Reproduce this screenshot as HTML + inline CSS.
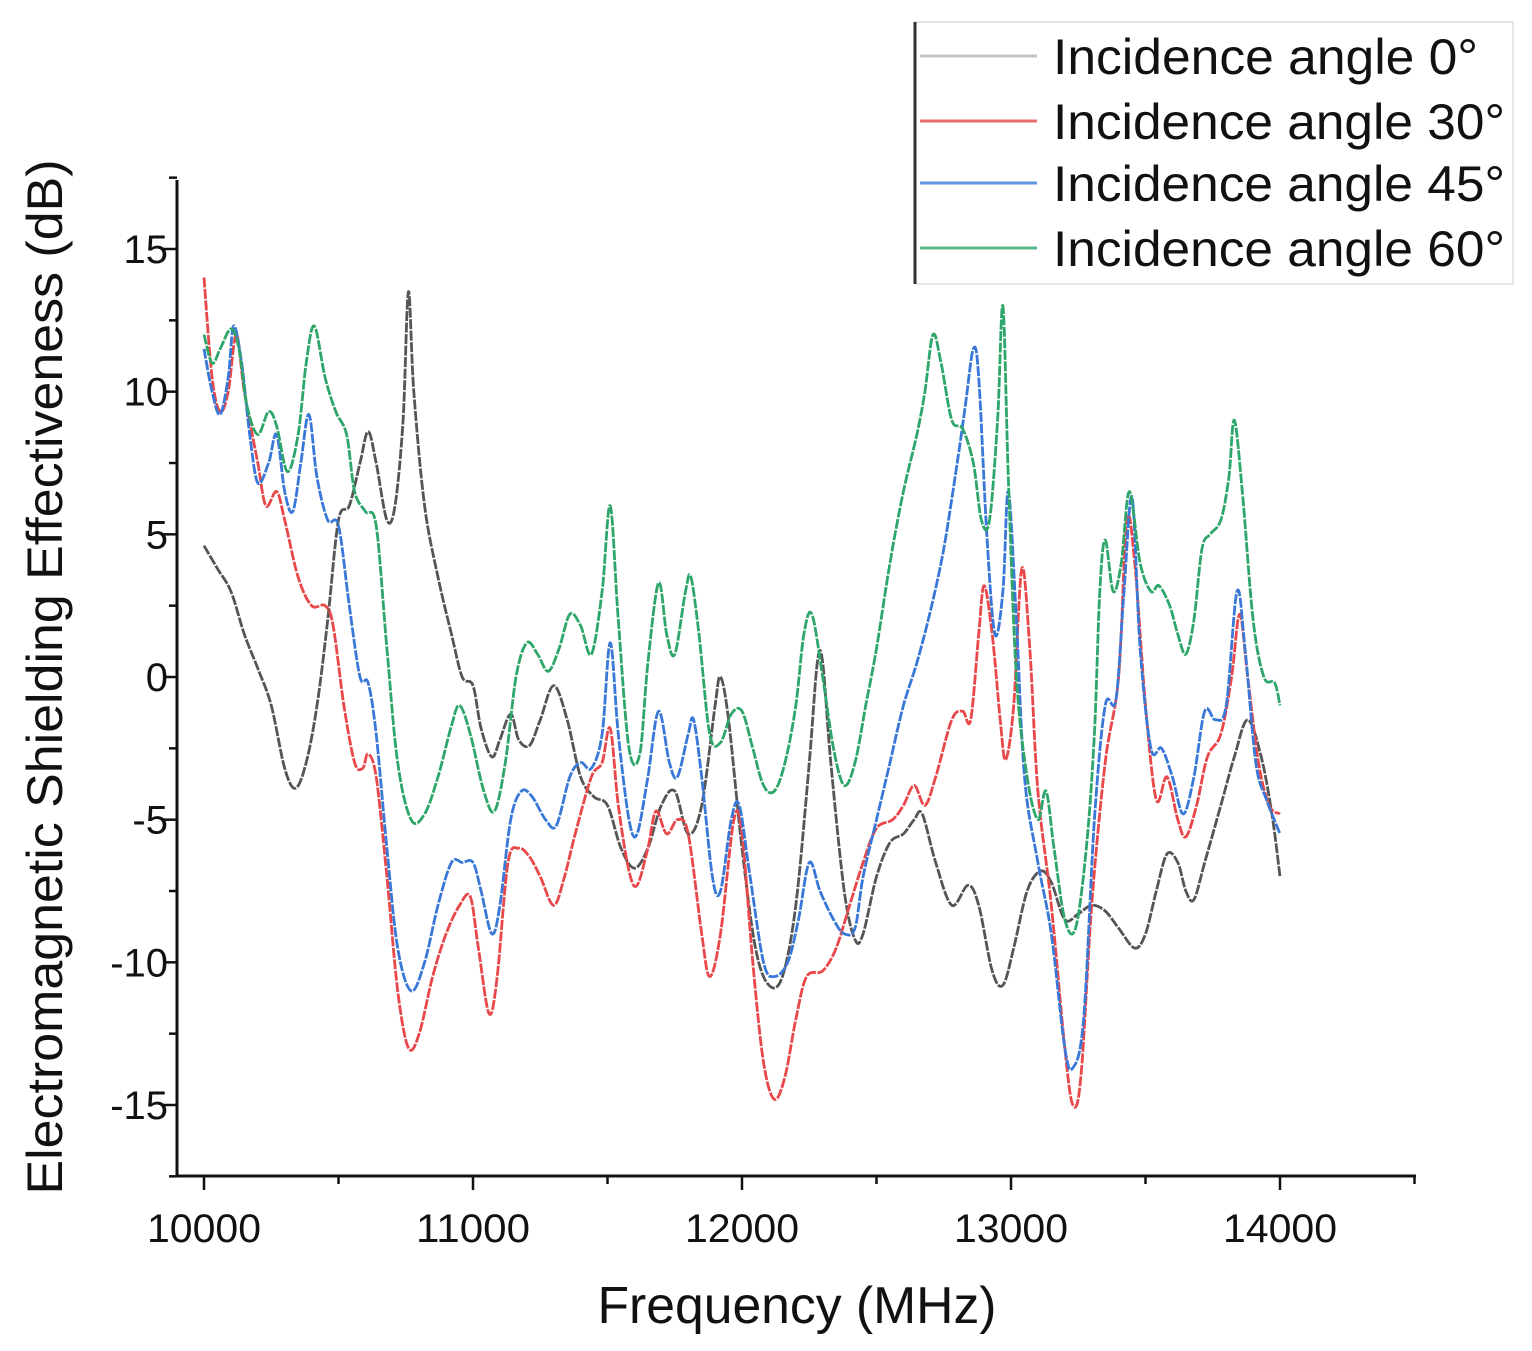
<!DOCTYPE html>
<html><head><meta charset="utf-8"><style>
html,body{margin:0;padding:0;background:#fff;}
svg{display:block;font-family:"Liberation Sans",Arial,sans-serif;}
</style></head><body>
<svg id="chart" width="1532" height="1351" viewBox="0 0 1532 1351" xmlns="http://www.w3.org/2000/svg">
<g id="axes"></g>
<g id="series"></g>
<text x="797" y="1323" font-size="52" text-anchor="middle" fill="#111" textLength="399" lengthAdjust="spacingAndGlyphs">Frequency (MHz)</text>
<text transform="translate(62,677) rotate(-90)" font-size="50" text-anchor="middle" fill="#111" textLength="1035" lengthAdjust="spacingAndGlyphs">Electromagnetic Shielding Effectiveness (dB)</text>
<g>
<rect x="915" y="22" width="598" height="262" fill="#fff" stroke="#ddd" stroke-width="1.5"/>
<line x1="915" y1="22" x2="915" y2="284" stroke="#333" stroke-width="3"/>
<g id="legend-entries"></g>
</g>
</svg>
<script>
const xTicks=[10000,11000,12000,13000,14000];
const yTicks=[15,10,5,0,-5,-10,-15];
const seriesNames=["Incidence angle 0°","Incidence angle 30°","Incidence angle 45°","Incidence angle 60°"];
const seriesColors=["#555","#e8484a","#3a78d8","#2ea66a"];
const freq0=[10000,10050,10100,10150,10200,10250,10300,10340,10380,10420,10460,10500,10540,10580,10610,10640,10680,10710,10740,10760,10780,10820,10870,10920,10960,11000,11030,11070,11100,11140,11170,11210,11250,11300,11350,11400,11450,11500,11550,11600,11650,11700,11750,11800,11850,11900,11920,11950,12000,12050,12100,12150,12200,12250,12280,12300,12330,12380,12420,12450,12500,12550,12600,12640,12670,12720,12780,12840,12880,12930,12970,13010,13060,13110,13150,13200,13250,13300,13350,13400,13460,13500,13540,13580,13620,13650,13680,13720,13780,13830,13880,13930,13970,14000];
const se0=[4.6,3.8,3,1.5,0.3,-1,-3.2,-3.9,-3,-1,2,5.5,6,7.5,8.6,7.5,5.5,6,9,13.5,10,6,3.5,1.5,0,-0.3,-1.8,-2.8,-2.2,-1.3,-2.2,-2.4,-1.5,-0.3,-1.5,-3.5,-4.2,-4.5,-6,-6.7,-6,-4.5,-4,-5.5,-4.5,-1,0,-1.5,-6,-9.5,-10.8,-10.5,-8,-3,0.5,0.5,-3,-7.5,-9.2,-9,-7,-5.8,-5.5,-5,-4.8,-6.5,-8,-7.3,-8,-10.3,-10.8,-9.5,-7.5,-6.8,-7.2,-8.5,-8.3,-8,-8.2,-8.8,-9.5,-9,-7.5,-6.2,-6.5,-7.5,-7.8,-6.5,-4.5,-2.8,-1.5,-2.8,-4.8,-7];
const freq30=[10000,10030,10060,10090,10120,10150,10200,10230,10270,10300,10350,10400,10450,10480,10520,10560,10590,10610,10640,10680,10720,10760,10800,10850,10900,10950,10990,11020,11060,11090,11130,11170,11210,11250,11300,11340,11380,11440,11480,11510,11540,11580,11610,11650,11680,11720,11760,11800,11850,11880,11920,11970,12000,12040,12080,12120,12160,12200,12240,12300,12350,12400,12450,12500,12560,12600,12640,12680,12720,12780,12820,12850,12880,12900,12930,12960,12980,13010,13040,13070,13100,13150,13200,13230,13260,13300,13350,13400,13430,13460,13500,13540,13580,13620,13650,13690,13730,13780,13820,13850,13880,13920,13960,14000];
const se30=[14,10.5,9.3,10,12,10,7.5,6,6.5,5.5,3.5,2.5,2.5,1.8,-1,-3,-3.2,-2.7,-3.5,-7,-11,-13,-12.5,-10.5,-9,-8,-7.7,-9.5,-11.8,-10.5,-6.5,-6,-6.3,-7,-8,-7,-5.5,-3.5,-3,-1.8,-4.5,-6.8,-7.3,-6,-4.7,-5.5,-5,-5.5,-9,-10.5,-9,-5,-5.5,-10,-13.5,-14.8,-14,-12,-10.5,-10.3,-9.5,-8,-6.5,-5.3,-5,-4.5,-3.8,-4.5,-3.5,-1.5,-1.2,-1.5,1.5,3.2,1.5,-1.5,-2.9,-1,3.8,1,-4,-8,-13,-15,-14,-8,-3,0,5.5,4,-1,-4.3,-3.5,-5,-5.6,-4.5,-2.8,-2,0,2.2,0,-3,-4.5,-4.8];
const freq45=[10000,10030,10060,10090,10110,10140,10170,10200,10240,10270,10300,10330,10360,10390,10420,10460,10500,10540,10580,10610,10640,10680,10720,10770,10820,10870,10920,10960,11000,11030,11070,11100,11140,11180,11220,11270,11310,11360,11400,11440,11480,11510,11540,11580,11610,11650,11690,11730,11760,11800,11820,11850,11890,11920,11960,11990,12030,12080,12120,12170,12210,12250,12290,12340,12380,12420,12450,12500,12550,12600,12650,12700,12750,12800,12830,12860,12880,12910,12940,12970,12990,13020,13050,13100,13150,13200,13230,13270,13310,13350,13390,13420,13450,13480,13520,13560,13600,13640,13680,13720,13760,13800,13840,13870,13910,13950,14000];
const se45=[11.5,10,9.2,10.5,12.3,11,8.5,6.8,7.5,8.5,6.5,5.8,7.5,9.2,7,5.5,5.3,2.5,0,-0.2,-2,-6,-9.5,-11,-10,-8,-6.5,-6.5,-6.5,-7.5,-9,-8,-5,-4,-4.2,-5,-5.2,-3.5,-3,-3.2,-2,1.2,-2,-5,-5.5,-3.5,-1.2,-3,-3.5,-2,-1.5,-3.5,-7,-7.5,-5,-4.5,-7,-10,-10.5,-10,-8.5,-6.5,-7.5,-8.5,-9,-8.8,-7,-5,-3,-1,0.5,2.3,4.5,7.5,9.5,11.5,10.5,5,1.5,3,6.5,2,-3.5,-6.5,-9,-13,-13.7,-12,-5,-1,-0.8,3,6.3,1,-2.5,-2.5,-3.5,-4.8,-3.5,-1.2,-1.5,-1,3,1,-3,-4.3,-5.5];
const freq60=[10000,10030,10060,10100,10130,10160,10200,10240,10270,10310,10350,10380,10410,10450,10490,10530,10560,10600,10640,10680,10720,10770,10820,10870,10920,10950,10990,11040,11080,11120,11160,11200,11240,11280,11320,11360,11400,11440,11480,11510,11540,11580,11620,11650,11690,11720,11750,11790,11810,11840,11880,11920,11960,12000,12040,12080,12120,12160,12200,12230,12260,12300,12340,12380,12420,12460,12500,12550,12600,12650,12680,12710,12740,12780,12820,12860,12890,12920,12950,12970,12990,13020,13060,13100,13130,13160,13200,13240,13280,13310,13330,13350,13380,13410,13440,13480,13520,13550,13590,13620,13650,13680,13710,13740,13780,13810,13830,13860,13900,13940,13980,14000];
const se60=[12,11,11.5,12.2,11.5,9.5,8.5,9.3,8.8,7.2,8.5,11,12.3,10.5,9.3,8.5,6.5,5.8,5.3,1,-3,-5,-4.8,-3.5,-1.7,-1,-2,-4,-4.7,-3,0,1.2,0.8,0.2,1,2.2,1.8,0.8,3,6,2,-2.5,-2.7,0.5,3.3,1.5,0.8,3,3.5,1.5,-2,-2.3,-1.3,-1.2,-2.5,-3.8,-4,-3,-1,1.5,2.2,0,-2.5,-3.8,-3,-1,1,4,6.5,8.5,10,12,11,9,8.7,7.5,5.5,5.5,9,13,7,0,-3.5,-5,-4,-6,-8.5,-8.8,-6,-2,3,4.8,3,4,6.5,4,3,3.2,2.5,1.5,0.8,2,4.5,5,5.5,7,9,6.5,2,0,-0.2,-1];
const freqs=[freq0,freq30,freq45,freq60];
const values=[se0,se30,se45,se60];

const NS="http://www.w3.org/2000/svg";
const xScale=f=>204+(f-10000)*(1076/4000);
const yScale=v=>677-v*(856/30);
function mk(tag,attrs,parent){const e=document.createElementNS(NS,tag);for(const k in attrs)e.setAttribute(k,attrs[k]);parent.appendChild(e);return e;}
const axes=document.getElementById('axes');
let a=mk('line',{x1:177,y1:180,x2:177,y2:1176,stroke:'#111','stroke-width':3},axes);


a=mk('line',{x1:176,y1:1176,x2:1416,y2:1176,stroke:'#111','stroke-width':3},axes);


for(let f=10000;f<=14500;f+=500){
  const x=xScale(f);const major=f%1000===0;
  const t=mk('line',{x1:x,y1:1176,x2:x,y2:1176+(major?14:8),stroke:'#111','stroke-width':2.5},axes);
  
  
}
xTicks.forEach(f=>{
  const t=mk('text',{x:xScale(f),y:1242,'font-size':40,'text-anchor':'middle',fill:'#111',textLength:114,lengthAdjust:'spacingAndGlyphs'},axes);t.textContent=f;
  
  
});
for(let v=-17.5;v<=17.5;v+=2.5){
  const y=yScale(v);const major=Math.abs(v%5)<1e-9;
  const t=mk('line',{x1:177-(major?14:8),y1:y,x2:177,y2:y,stroke:'#111','stroke-width':2.5},axes);
  
  
}
yTicks.forEach(v=>{
  const t=mk('text',{x:168,y:yScale(v)+14,'font-size':40,'text-anchor':'end',fill:'#111'},axes);t.textContent=v;
  
  
});
function smooth(pts){
  let d=`M${pts[0][0].toFixed(1)},${pts[0][1].toFixed(1)}`;
  for(let i=0;i<pts.length-1;i++){
    const p0=pts[Math.max(0,i-1)],p1=pts[i],p2=pts[i+1],p3=pts[Math.min(pts.length-1,i+2)];
    const c1=[p1[0]+(p2[0]-p0[0])/6,p1[1]+(p2[1]-p0[1])/6];
    const c2=[p2[0]-(p3[0]-p1[0])/6,p2[1]-(p3[1]-p1[1])/6];
    d+=`C${c1[0].toFixed(1)},${c1[1].toFixed(1)} ${c2[0].toFixed(1)},${c2[1].toFixed(1)} ${p2[0].toFixed(1)},${p2[1].toFixed(1)}`;
  }
  return d;
}
const sg=document.getElementById('series');
const keys=['0','30','45','60'];
values.forEach((vals,i)=>{
  const pts=vals.map((v,j)=>[xScale(freqs[i][j]),yScale(v)]);
  const p=mk('path',{d:smooth(pts),fill:'none',stroke:seriesColors[i],'stroke-width':2.8,'stroke-dasharray':'10 1.5'},sg);
  
  
});
const lg=document.getElementById('legend-entries');
const rowsY=[56,121,183,248];
const labelLens=[425,452,452,452];
seriesNames.forEach((n,i)=>{
  const l=mk('line',{x1:920,y1:rowsY[i],x2:1037,y2:rowsY[i],stroke:seriesColors[i],'stroke-width':3,opacity:i===0?0.35:0.8},lg);
  
  
  const t=mk('text',{x:1053,y:rowsY[i]+18,'font-size':50,fill:'#111',textLength:labelLens[i],lengthAdjust:'spacingAndGlyphs'},lg);t.textContent=n;
  
  
});
</script>
</body></html>
